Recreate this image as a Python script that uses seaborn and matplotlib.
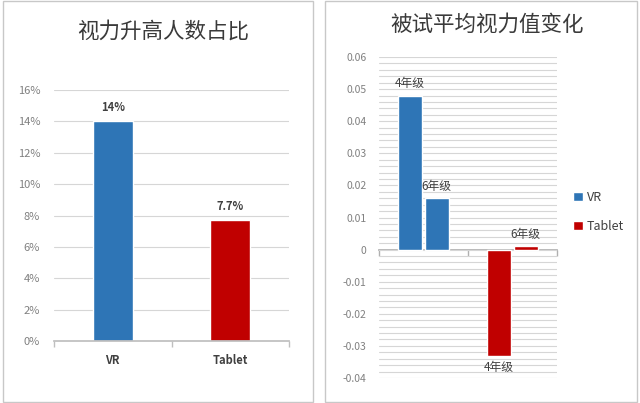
import matplotlib
matplotlib.use("Agg")
import matplotlib.pyplot as plt
from matplotlib.patches import Rectangle, Patch
from matplotlib.ticker import MultipleLocator, PercentFormatter
import pandas as pd
import seaborn as sns

# left chart: share of pupils whose eyesight improved
devices = ["VR", "Tablet"]
improved_share = [14.0, 7.7]
share_labels = ["14%", "7.7%"]

# right chart: mean change of eyesight value per device and grade
grades = ["4年级", "6年级"]
change_device = ["VR", "VR", "Tablet", "Tablet"]
change_grade = ["4年级", "6年级", "4年级", "6年级"]
change_value = [0.048, 0.016, -0.033, 0.001]

colors = {"VR": "#2E75B6", "Tablet": "#C00000"}
grid_col = "#D6D6D6"
tick_col = "#808080"
text_col = "#404040"

sns.set_theme(style="white")
plt.rcParams["font.family"] = ["Noto Sans CJK SC", "DejaVu Sans"]

fig = plt.figure(figsize=(6.4, 4.03), dpi=100)
W, H = 640, 403

# panel frames
for x0, x1 in [(3, 313), (325, 637)]:
    fig.patches.append(Rectangle((x0 / W, 1 / H), (x1 - x0) / W, (H - 2) / H,
                                 transform=fig.transFigure, fill=False,
                                 edgecolor="#C8C8C8", linewidth=1.0))

# ---- left chart ----
ax1 = fig.add_axes([54 / W, 1 - 341 / H, 235 / W, 251 / H])
df1 = pd.DataFrame({"device": devices, "share": improved_share})
sns.barplot(data=df1, x="device", y="share", hue="device", palette=colors,
            saturation=1, width=0.34, legend=False, ax=ax1)
ax1.set_ylim(0, 16)
ax1.yaxis.set_major_locator(MultipleLocator(2))
ax1.yaxis.set_major_formatter(PercentFormatter(decimals=0))
ax1.yaxis.grid(True, color=grid_col, linewidth=0.8)
ax1.set_axisbelow(True)
for s in ["top", "right", "left"]:
    ax1.spines[s].set_visible(False)
ax1.spines["bottom"].set_color("#BFBFBF")
ax1.set_xlim(-0.5, 1.5)
ax1.set_xticks([-0.5, 0.5, 1.5], minor=True)
ax1.tick_params(axis="x", which="minor", length=4, color="#BFBFBF", direction="out", bottom=True)
ax1.tick_params(axis="x", which="major", length=0, pad=9, labelsize=8, labelcolor=text_col)
for lab in ax1.get_xticklabels():
    lab.set_fontweight("bold")
ax1.tick_params(axis="y", length=0, pad=10, labelsize=8, labelcolor=tick_col)
ax1.set_xlabel("")
ax1.set_ylabel("")
for cont, txt in zip(ax1.containers, share_labels):
    ax1.bar_label(cont, labels=[txt], padding=5, fontsize=8, fontweight="bold", color=text_col)
fig.text(163 / W, 1 - 32 / H, "视力升高人数占比", ha="center", va="center",
         fontsize=15.5, color="#3A3A3A")

# ---- right chart ----
ax2 = fig.add_axes([379 / W, 1 - 378 / H, 178 / W, 321 / H])
df2 = pd.DataFrame({"device": change_device, "grade": change_grade, "change": change_value})
sns.barplot(data=df2, x="device", y="change", hue="grade", order=devices,
            hue_order=grades, saturation=1, width=0.6, gap=0.1, legend=False, ax=ax2)
for cont, grade in zip(ax2.containers, grades):
    for bar, dev in zip(cont, devices):
        bar.set_facecolor(colors[dev])
    ax2.bar_label(cont, labels=[grade] * len(cont), padding=4, fontsize=8.5, color=text_col)
ax2.set_ylim(-0.04, 0.06)
ax2.yaxis.set_major_locator(MultipleLocator(0.01))
ax2.yaxis.set_minor_locator(MultipleLocator(0.002))
ax2.yaxis.set_major_formatter(plt.FuncFormatter(lambda v, p: "0" if abs(v) < 1e-9 else f"{v:.2f}"))
ax2.yaxis.grid(True, which="both", color=grid_col, linewidth=0.8)
ax2.set_axisbelow(True)
for s in ["top", "right", "left"]:
    ax2.spines[s].set_visible(False)
ax2.spines["bottom"].set_position(("data", 0))
ax2.spines["bottom"].set_color("#B0B0B0")
ax2.spines["bottom"].set_zorder(0.5)
ax2.set_xlim(-0.5, 1.5)
ax2.set_xticks([])
ax2.set_xticks([-0.5, 0.5, 1.5], minor=True)
ax2.tick_params(axis="x", which="minor", length=4, color="#B0B0B0", direction="out", bottom=True)
ax2.tick_params(axis="y", which="both", length=0, pad=9, labelsize=7.5, labelcolor=tick_col)
ax2.set_xlabel("")
ax2.set_ylabel("")
handles = [Patch(facecolor=colors[d], label=d) for d in devices]
fig.legend(handles=handles, loc="center left", bbox_to_anchor=(562 / W, 1 - 212 / H),
           frameon=False, fontsize=9, handlelength=0.75, handleheight=0.75,
           handletextpad=0.35, labelspacing=1.3, labelcolor=text_col)
fig.text(487 / W, 1 - 25 / H, "被试平均视力值变化", ha="center", va="center",
         fontsize=15.5, color="#3A3A3A")

fig.savefig("out.png", dpi=100)
